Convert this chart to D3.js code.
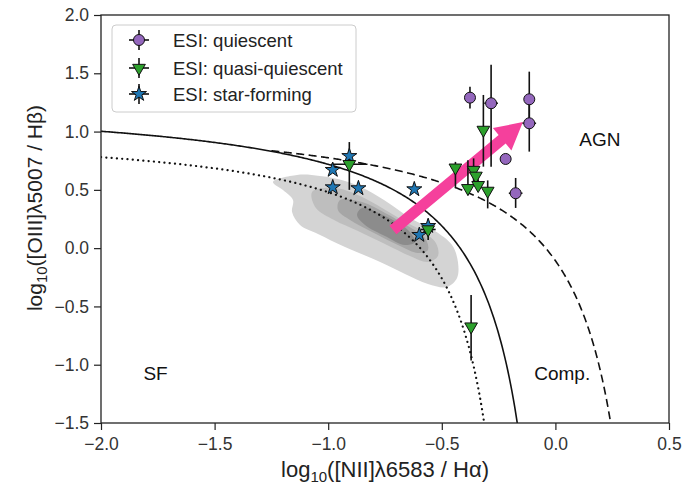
<!DOCTYPE html>
<html>
<head>
<meta charset="utf-8">
<script src="https://cdn.jsdelivr.net/npm/d3@7"></script>
<style>
  body { margin: 0; background: #fff; }
  text { font-family: "Liberation Sans", Arial, sans-serif; }
</style>
</head>
<body>
<div id="chart"></div>
<script>
// chart size
var svgWidth = 691;
var svgHeight = 488;
var margin = { top: 15, right: 22, bottom: 65, left: 101 };
var chartWidth = svgWidth - margin.left - margin.right;
var chartHeight = svgHeight - margin.top - margin.bottom;

// axis ticks
var xTicks = [-2.0, -1.5, -1.0, -0.5, 0.0, 0.5];
var yTicks = [-1.5, -1.0, -0.5, 0.0, 0.5, 1.0, 1.5, 2.0];

// ESI: quiescent
var quiX = [-0.376, -0.283, -0.115, -0.115, -0.219, -0.175];
var quiY = [1.291, 1.243, 1.277, 1.071, 0.765, 0.471];
var quiXerr = [0.0, 0.03, 0.0, 0.03, 0.0, 0.03];
var quiYlo = [0.093, 0.544, 0.20, 0.243, 0.0, 0.126];
var quiYhi = [0.093, 0.33, 0.237, 0.20, 0.0, 0.131];

// ESI: quasi-quiescent
var qqX = [-0.907, -0.56, -0.371, -0.317, -0.44, -0.36, -0.35, -0.385, -0.34, -0.298];
var qqY = [0.72, 0.16, -0.673, 1.014, 0.69, 0.67, 0.62, 0.514, 0.54, 0.491];
var qqXerr = [0.08, 0.033, 0.0, 0.0, 0.0, 0.0, 0.0, 0.0, 0.0, 0.0];
var qqYlo = [0.22, 0.09, 0.29, 0.315, 0.17, 0.1, 0.0, 0.06, 0.05, 0.15];
var qqYhi = [0.19, 0.09, 0.27, 0.30, 0.05, 0.1, 0.0, 0.24, 0.05, 0.09];

// ESI: star-forming
var sfX = [-0.907, -0.98, -0.98, -0.867, -0.621, -0.599, -0.56];
var sfY = [0.79, 0.671, 0.522, 0.514, 0.505, 0.113, 0.19];

// demarcation lines y = a / (x - b) + c
var kauffmann = { a: 0.61, b: 0.05, c: 1.30, x0: -2.0 };   // solid
var kewley = { a: 0.61, b: 0.47, c: 1.19, x0: -1.25 };     // dashed
var dottedLine = { a: 0.50, b: -0.117, c: 1.046, x0: -2.0 }; // dotted

// density contours of the parent sample (x, y pairs)
var contour1 = [[-1.243, 0.568], [-1.137, 0.628], [-1.036, 0.619], [-0.926, 0.576], [-0.829, 0.499],
  [-0.728, 0.379], [-0.640, 0.259], [-0.530, 0.148], [-0.455, 0.027], [-0.429, -0.118],
  [-0.433, -0.256], [-0.477, -0.333], [-0.561, -0.307], [-0.662, -0.221], [-0.781, -0.110],
  [-0.926, 0.010], [-1.045, 0.122], [-1.124, 0.199], [-1.159, 0.310], [-1.155, 0.413], [-1.199, 0.499]];
var contour2 = [[-1.071, 0.482], [-0.970, 0.516], [-0.860, 0.448], [-0.763, 0.345], [-0.675, 0.242],
  [-0.587, 0.148], [-0.526, 0.045], [-0.517, -0.067], [-0.561, -0.118], [-0.640, -0.067],
  [-0.750, 0.036], [-0.869, 0.148], [-0.974, 0.242], [-1.054, 0.345]];
var contour3 = [[-0.948, 0.413], [-0.851, 0.396], [-0.750, 0.302], [-0.649, 0.190], [-0.574, 0.087],
  [-0.561, -0.015], [-0.605, -0.041], [-0.693, 0.027], [-0.807, 0.139], [-0.904, 0.242], [-0.957, 0.328]];
var contour4 = [[-0.851, 0.345], [-0.750, 0.276], [-0.649, 0.156], [-0.618, 0.053], [-0.662, 0.027],
  [-0.750, 0.105], [-0.838, 0.199], [-0.873, 0.285]];
var contourColors = ["#d4d4d4", "#bebebe", "#a6a6a6", "#8c8c8c"];

// arrow from tail to tip
var arrowFrom = [-0.715, 0.156];
var arrowTo = [-0.143, 1.082];

var legendLabels = ["ESI: quiescent", "ESI: quasi-quiescent", "ESI: star-forming"];
var colors = { qui: "#9467bd", qq: "#2ca02c", sf: "#1f77b4" };

var svg = d3.select("#chart")
    .append("svg")
    .attr("width", svgWidth)
    .attr("height", svgHeight);

svg.append("defs").append("clipPath")
    .attr("id", "clip")
    .append("rect")
    .attr("width", chartWidth)
    .attr("height", chartHeight);

var chartGroup = svg.append("g")
    .attr("transform", `translate(${margin.left}, ${margin.top})`);

var xScale = d3.scaleLinear().domain([-2.0, 0.5]).range([0, chartWidth]);
var yScale = d3.scaleLinear().domain([-1.5, 2.0]).range([chartHeight, 0]);

var plotArea = chartGroup.append("g").attr("clip-path", "url(#clip)");

// contours
var contourLine = d3.line()
    .x(d => xScale(d[0]))
    .y(d => yScale(d[1]))
    .curve(d3.curveCatmullRomClosed.alpha(0.5));

[contour1, contour2, contour3, contour4].forEach(function(c, i) {
    plotArea.append("path")
        .attr("d", contourLine(c))
        .attr("fill", contourColors[i])
        .attr("stroke", "none");
});

// demarcation curves
function curvePoints(p) {
    var xEnd = p.b + p.a / (-1.6 - p.c);
    var pts = [];
    var n = 300;
    for (var i = 0; i <= n; i++) {
        var x = p.x0 + (xEnd - p.x0) * i / n;
        pts.push([x, p.a / (x - p.b) + p.c]);
    }
    return pts;
}
var curveLine = d3.line().x(d => xScale(d[0])).y(d => yScale(d[1]));

plotArea.append("path")
    .attr("d", curveLine(curvePoints(dottedLine)))
    .attr("fill", "none")
    .attr("stroke", "#111")
    .attr("stroke-width", 2.2)
    .attr("stroke-linecap", "round")
    .attr("stroke-dasharray", "0.1,5.2");

plotArea.append("path")
    .attr("d", curveLine(curvePoints(kauffmann)))
    .attr("fill", "none")
    .attr("stroke", "#111")
    .attr("stroke-width", 1.6);

plotArea.append("path")
    .attr("d", curveLine(curvePoints(kewley)))
    .attr("fill", "none")
    .attr("stroke", "#111")
    .attr("stroke-width", 1.6)
    .attr("stroke-dasharray", "8,4.5");

// arrow
(function() {
    var x1 = xScale(arrowFrom[0]), y1 = yScale(arrowFrom[1]);
    var x2 = xScale(arrowTo[0]), y2 = yScale(arrowTo[1]);
    var len = Math.hypot(x2 - x1, y2 - y1);
    var ux = (x2 - x1) / len, uy = (y2 - y1) / len;
    var nx = -uy, ny = ux;
    var w = 5.5, hw = 14.5, hl = 27;
    var bx = x2 - ux * hl, by = y2 - uy * hl;
    var pts = [
        [x1 + nx * w, y1 + ny * w],
        [bx + nx * w, by + ny * w],
        [bx + nx * hw, by + ny * hw],
        [x2, y2],
        [bx - nx * hw, by - ny * hw],
        [bx - nx * w, by - ny * w],
        [x1 - nx * w, y1 - ny * w]
    ];
    plotArea.append("polygon")
        .attr("points", pts.map(p => p.join(",")).join(" "))
        .attr("fill", "#f5409c")
        .attr("stroke", "none");
})();

// error bars
function drawErrors(xs, ys, xerr, ylo, yhi) {
    xs.forEach(function(x, i) {
        if (yhi[i] > 0 || ylo[i] > 0) {
            plotArea.append("line")
                .attr("x1", xScale(x)).attr("x2", xScale(x))
                .attr("y1", yScale(ys[i] + yhi[i])).attr("y2", yScale(ys[i] - ylo[i]))
                .attr("stroke", "#111").attr("stroke-width", 1.6);
        }
        if (xerr[i] > 0) {
            plotArea.append("line")
                .attr("x1", xScale(x - xerr[i])).attr("x2", xScale(x + xerr[i]))
                .attr("y1", yScale(ys[i])).attr("y2", yScale(ys[i]))
                .attr("stroke", "#111").attr("stroke-width", 1.6);
        }
    });
}

drawErrors(qqX, qqY, qqXerr, qqYlo, qqYhi);
drawErrors(quiX, quiY, quiXerr, quiYlo, quiYhi);

var triangle = d3.symbol().type(d3.symbolTriangle).size(70);
var star = d3.symbol().type(d3.symbolStar).size(70);

// star-forming
plotArea.selectAll(".sf")
    .data(sfX.map((x, i) => [x, sfY[i]]))
    .enter()
    .append("path")
    .attr("d", star)
    .attr("transform", d => `translate(${xScale(d[0])},${yScale(d[1])})`)
    .attr("fill", colors.sf)
    .attr("stroke", "#111")
    .attr("stroke-width", 1);

// quasi-quiescent
plotArea.selectAll(".qq")
    .data(qqX.map((x, i) => [x, qqY[i]]))
    .enter()
    .append("path")
    .attr("d", triangle)
    .attr("transform", d => `translate(${xScale(d[0])},${yScale(d[1])}) rotate(180)`)
    .attr("fill", colors.qq)
    .attr("stroke", "#111")
    .attr("stroke-width", 1);

// quiescent
plotArea.selectAll(".qui")
    .data(quiX.map((x, i) => [x, quiY[i]]))
    .enter()
    .append("circle")
    .attr("cx", d => xScale(d[0]))
    .attr("cy", d => yScale(d[1]))
    .attr("r", 5.5)
    .attr("fill", colors.qui)
    .attr("stroke", "#111")
    .attr("stroke-width", 1);

// region labels
chartGroup.append("text").attr("x", xScale(0.196)).attr("y", yScale(0.88))
    .attr("text-anchor", "middle").attr("font-size", "19px").attr("fill", "#111").text("AGN");
chartGroup.append("text").attr("x", xScale(-1.76)).attr("y", yScale(-1.13))
    .attr("text-anchor", "middle").attr("font-size", "19px").attr("fill", "#111").text("SF");
chartGroup.append("text").attr("x", xScale(0.03)).attr("y", yScale(-1.13))
    .attr("text-anchor", "middle").attr("font-size", "19px").attr("fill", "#111").text("Comp.");

// axes
var bottomAxis = d3.axisBottom(xScale).tickValues(xTicks).tickFormat(d3.format(".1f")).tickSize(7).tickPadding(8);
var leftAxis = d3.axisLeft(yScale).tickValues(yTicks).tickFormat(d3.format(".1f")).tickSize(7).tickPadding(5);

var gx = chartGroup.append("g")
    .attr("transform", `translate(0, ${chartHeight})`)
    .call(bottomAxis);
var gy = chartGroup.append("g").call(leftAxis);

[gx, gy].forEach(function(g) {
    g.select(".domain").remove();
    g.selectAll("line").attr("stroke", "#222").attr("stroke-width", 1.2);
    g.selectAll("text").attr("font-size", "17.5px").attr("fill", "#333")
        .attr("font-family", "'Liberation Sans', Arial, sans-serif");
});

// frame
chartGroup.append("rect")
    .attr("width", chartWidth)
    .attr("height", chartHeight)
    .attr("fill", "none")
    .attr("stroke", "#222")
    .attr("stroke-width", 1.3);

// axis labels
var xLabel = svg.append("text")
    .attr("x", margin.left + chartWidth / 2)
    .attr("y", 477)
    .attr("text-anchor", "middle")
    .attr("font-size", "22px")
    .attr("fill", "#222");
xLabel.append("tspan").text("log");
xLabel.append("tspan").attr("font-size", "15px").attr("dy", 5).text("10");
xLabel.append("tspan").attr("dy", -5).text("([NII]λ6583 / Hα)");

var yLabel = svg.append("text")
    .attr("transform", `translate(42, 208) rotate(-90)`)
    .attr("text-anchor", "middle")
    .attr("font-size", "21px")
    .attr("fill", "#222");
yLabel.append("tspan").text("log");
yLabel.append("tspan").attr("font-size", "15px").attr("dy", 5).text("10");
yLabel.append("tspan").attr("dy", -5).text("([OIII]λ5007 / Hβ)");

// legend
var legend = svg.append("g");
legend.append("rect")
    .attr("x", 112).attr("y", 25)
    .attr("width", 244).attr("height", 87)
    .attr("rx", 4)
    .attr("fill", "#fff").attr("fill-opacity", 0.8)
    .attr("stroke", "#ccc").attr("stroke-width", 1);

var legendRows = [40, 68, 94];
legendLabels.forEach(function(label, i) {
    var cy = legendRows[i], cx = 139;
    legend.append("line").attr("x1", cx - 10).attr("x2", cx + 10).attr("y1", cy).attr("y2", cy)
        .attr("stroke", "#111").attr("stroke-width", 1.6);
    legend.append("line").attr("x1", cx).attr("x2", cx).attr("y1", cy - 10).attr("y2", cy + 10)
        .attr("stroke", "#111").attr("stroke-width", 1.6);
    if (i === 0) {
        legend.append("circle").attr("cx", cx).attr("cy", cy).attr("r", 5.5)
            .attr("fill", colors.qui).attr("stroke", "#111");
    } else if (i === 1) {
        legend.append("path").attr("d", triangle)
            .attr("transform", `translate(${cx},${cy}) rotate(180)`)
            .attr("fill", colors.qq).attr("stroke", "#111");
    } else {
        legend.append("path").attr("d", star)
            .attr("transform", `translate(${cx},${cy})`)
            .attr("fill", colors.sf).attr("stroke", "#111");
    }
    legend.append("text")
        .attr("x", 173).attr("y", cy + 7)
        .attr("font-size", "18.5px")
        .attr("fill", "#222")
        .text(label);
});
</script>
</body>
</html>
